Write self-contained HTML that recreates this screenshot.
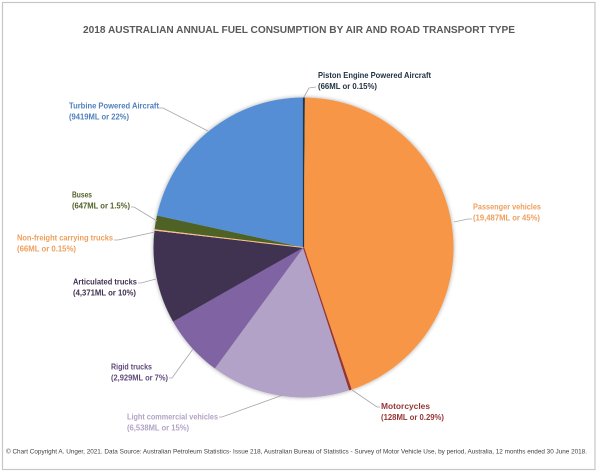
<!DOCTYPE html>
<html>
<head>
<meta charset="utf-8">
<style>
html,body{margin:0;padding:0;background:#fff;}
svg{display:block;}
text{font-family:"Liberation Sans",sans-serif;}
</style>
</head>
<body>
<svg width="600" height="473" viewBox="0 0 600 473" xmlns="http://www.w3.org/2000/svg">
<defs>
<filter id="sh" x="-20%" y="-20%" width="140%" height="140%">
<feGaussianBlur in="SourceAlpha" stdDeviation="2"/>
<feOffset dx="0" dy="0" result="b"/>
<feComponentTransfer><feFuncA type="linear" slope="0.35"/></feComponentTransfer>
<feMerge><feMergeNode/><feMergeNode in="SourceGraphic"/></feMerge>
</filter>
</defs>
<rect x="0" y="0" width="600" height="473" fill="#fff"/>
<rect x="2.5" y="2.5" width="592.5" height="467" fill="#fff" stroke="#c6c6c6" stroke-width="1.2"/>

<text x="299" y="33" text-anchor="middle" font-size="10" font-weight="bold" fill="#595959" textLength="432" lengthAdjust="spacingAndGlyphs">2018 AUSTRALIAN ANNUAL FUEL CONSUMPTION BY AIR AND ROAD TRANSPORT TYPE</text>

<g filter="url(#sh)">
<path d="M303.5,247.5 L303.5,97.5 A150,150 0 0 1 304.93,97.51 Z" fill="#243447"/>
<path d="M303.5,247.5 L304.93,97.51 A150,150 0 0 1 351.7,389.55 Z" fill="#F79646"/>
<path d="M303.5,247.5 L351.7,389.55 A150,150 0 0 1 349.07,390.41 Z" fill="#963634"/>
<path d="M303.5,247.5 L349.07,390.41 A150,150 0 0 1 214.83,368.49 Z" fill="#B3A2C7"/>
<path d="M303.5,247.5 L214.83,368.49 A150,150 0 0 1 173.09,321.62 Z" fill="#8064A2"/>
<path d="M303.5,247.5 L173.09,321.62 A150,150 0 0 1 154.44,230.68 Z" fill="#403151"/>
<path d="M303.5,247.5 L154.44,230.68 A150,150 0 0 1 154.61,229.27 Z" fill="#FAC090"/>
<path d="M303.5,247.5 L154.61,229.27 A150,150 0 0 1 156.95,215.50 Z" fill="#4F6228"/>
<path d="M303.5,247.5 L156.95,215.50 A150,150 0 0 1 303.5,97.5 Z" fill="#558ED5"/>
</g>
<line x1="303.5" y1="247.5" x2="303.5" y2="97.5" stroke="#243447" stroke-width="1.2"/>
<line x1="303.5" y1="247.5" x2="154.5" y2="230" stroke="#FAC090" stroke-width="1"/>
<line x1="303.5" y1="247.5" x2="350.4" y2="390" stroke="#963634" stroke-width="1.2"/>

<g stroke="#a6a6a6" stroke-width="0.8" fill="none">
<polyline points="304,97 309,88 316,87"/>
<polyline points="159,108 163,108 208,131"/>
<polyline points="472,219 468,219 454,222"/>
<polyline points="352,390 377,407 380,407"/>
<polyline points="219,417 222,417 283,395"/>
<polyline points="131,207 134,207 157,221"/>
<polyline points="114,240 118,240 155,232"/>
<polyline points="138,283 141,283 156,279"/>
<polyline points="169,378 172,378 193,349"/>
</g>

<g font-size="8.5" font-weight="bold">
<text x="318" y="78" fill="#1F3040" textLength="113" lengthAdjust="spacingAndGlyphs">Piston Engine Powered Aircraft</text>
<text x="318" y="89" fill="#1F3040" textLength="59" lengthAdjust="spacingAndGlyphs">(66ML or 0.15%)</text>

<text x="69" y="108.5" fill="#4F81BD" textLength="90" lengthAdjust="spacingAndGlyphs">Turbine Powered Aircraft</text>
<text x="69" y="119.5" fill="#4F81BD" textLength="60" lengthAdjust="spacingAndGlyphs">(9419ML or 22%)</text>

<text x="473" y="209.5" fill="#EE9F5C" textLength="68" lengthAdjust="spacingAndGlyphs">Passenger vehicles</text>
<text x="473" y="220.5" fill="#EE9F5C" textLength="67" lengthAdjust="spacingAndGlyphs">(19,487ML or 45%)</text>

<text x="381" y="409" fill="#963634" textLength="49" lengthAdjust="spacingAndGlyphs">Motorcycles</text>
<text x="381" y="420" fill="#963634" textLength="63" lengthAdjust="spacingAndGlyphs">(128ML or 0.29%)</text>

<text x="127" y="419.5" fill="#B3A2C7" textLength="91" lengthAdjust="spacingAndGlyphs">Light commercial vehicles</text>
<text x="127" y="430.5" fill="#B3A2C7" textLength="62" lengthAdjust="spacingAndGlyphs">(6,538ML or 15%)</text>

<text x="72" y="197.5" fill="#4F6228" textLength="20" lengthAdjust="spacingAndGlyphs">Buses</text>
<text x="72" y="208.5" fill="#4F6228" textLength="58" lengthAdjust="spacingAndGlyphs">(647ML or 1.5%)</text>

<text x="17" y="240.5" fill="#EE9F5C" textLength="96" lengthAdjust="spacingAndGlyphs">Non-freight carrying trucks</text>
<text x="17" y="251.5" fill="#EE9F5C" textLength="59" lengthAdjust="spacingAndGlyphs">(66ML or 0.15%)</text>

<text x="73" y="284.5" fill="#403151" textLength="64" lengthAdjust="spacingAndGlyphs">Articulated trucks</text>
<text x="73" y="295.5" fill="#403151" textLength="63" lengthAdjust="spacingAndGlyphs">(4,371ML or 10%)</text>

<text x="111" y="369.5" fill="#5F497A" textLength="41" lengthAdjust="spacingAndGlyphs">Rigid trucks</text>
<text x="111" y="380.5" fill="#5F497A" textLength="57" lengthAdjust="spacingAndGlyphs">(2,929ML or 7%)</text>
</g>

<text x="6" y="453.5" font-size="6" fill="#404040" textLength="581" lengthAdjust="spacingAndGlyphs">© Chart Copyright A. Unger, 2021. Data Source: Australian Petroleum Statistics- Issue 218, Australian Bureau of Statistics - Survey of Motor Vehicle Use, by period, Australia, 12 months ended 30 June 2018.</text>
</svg>
</body>
</html>
